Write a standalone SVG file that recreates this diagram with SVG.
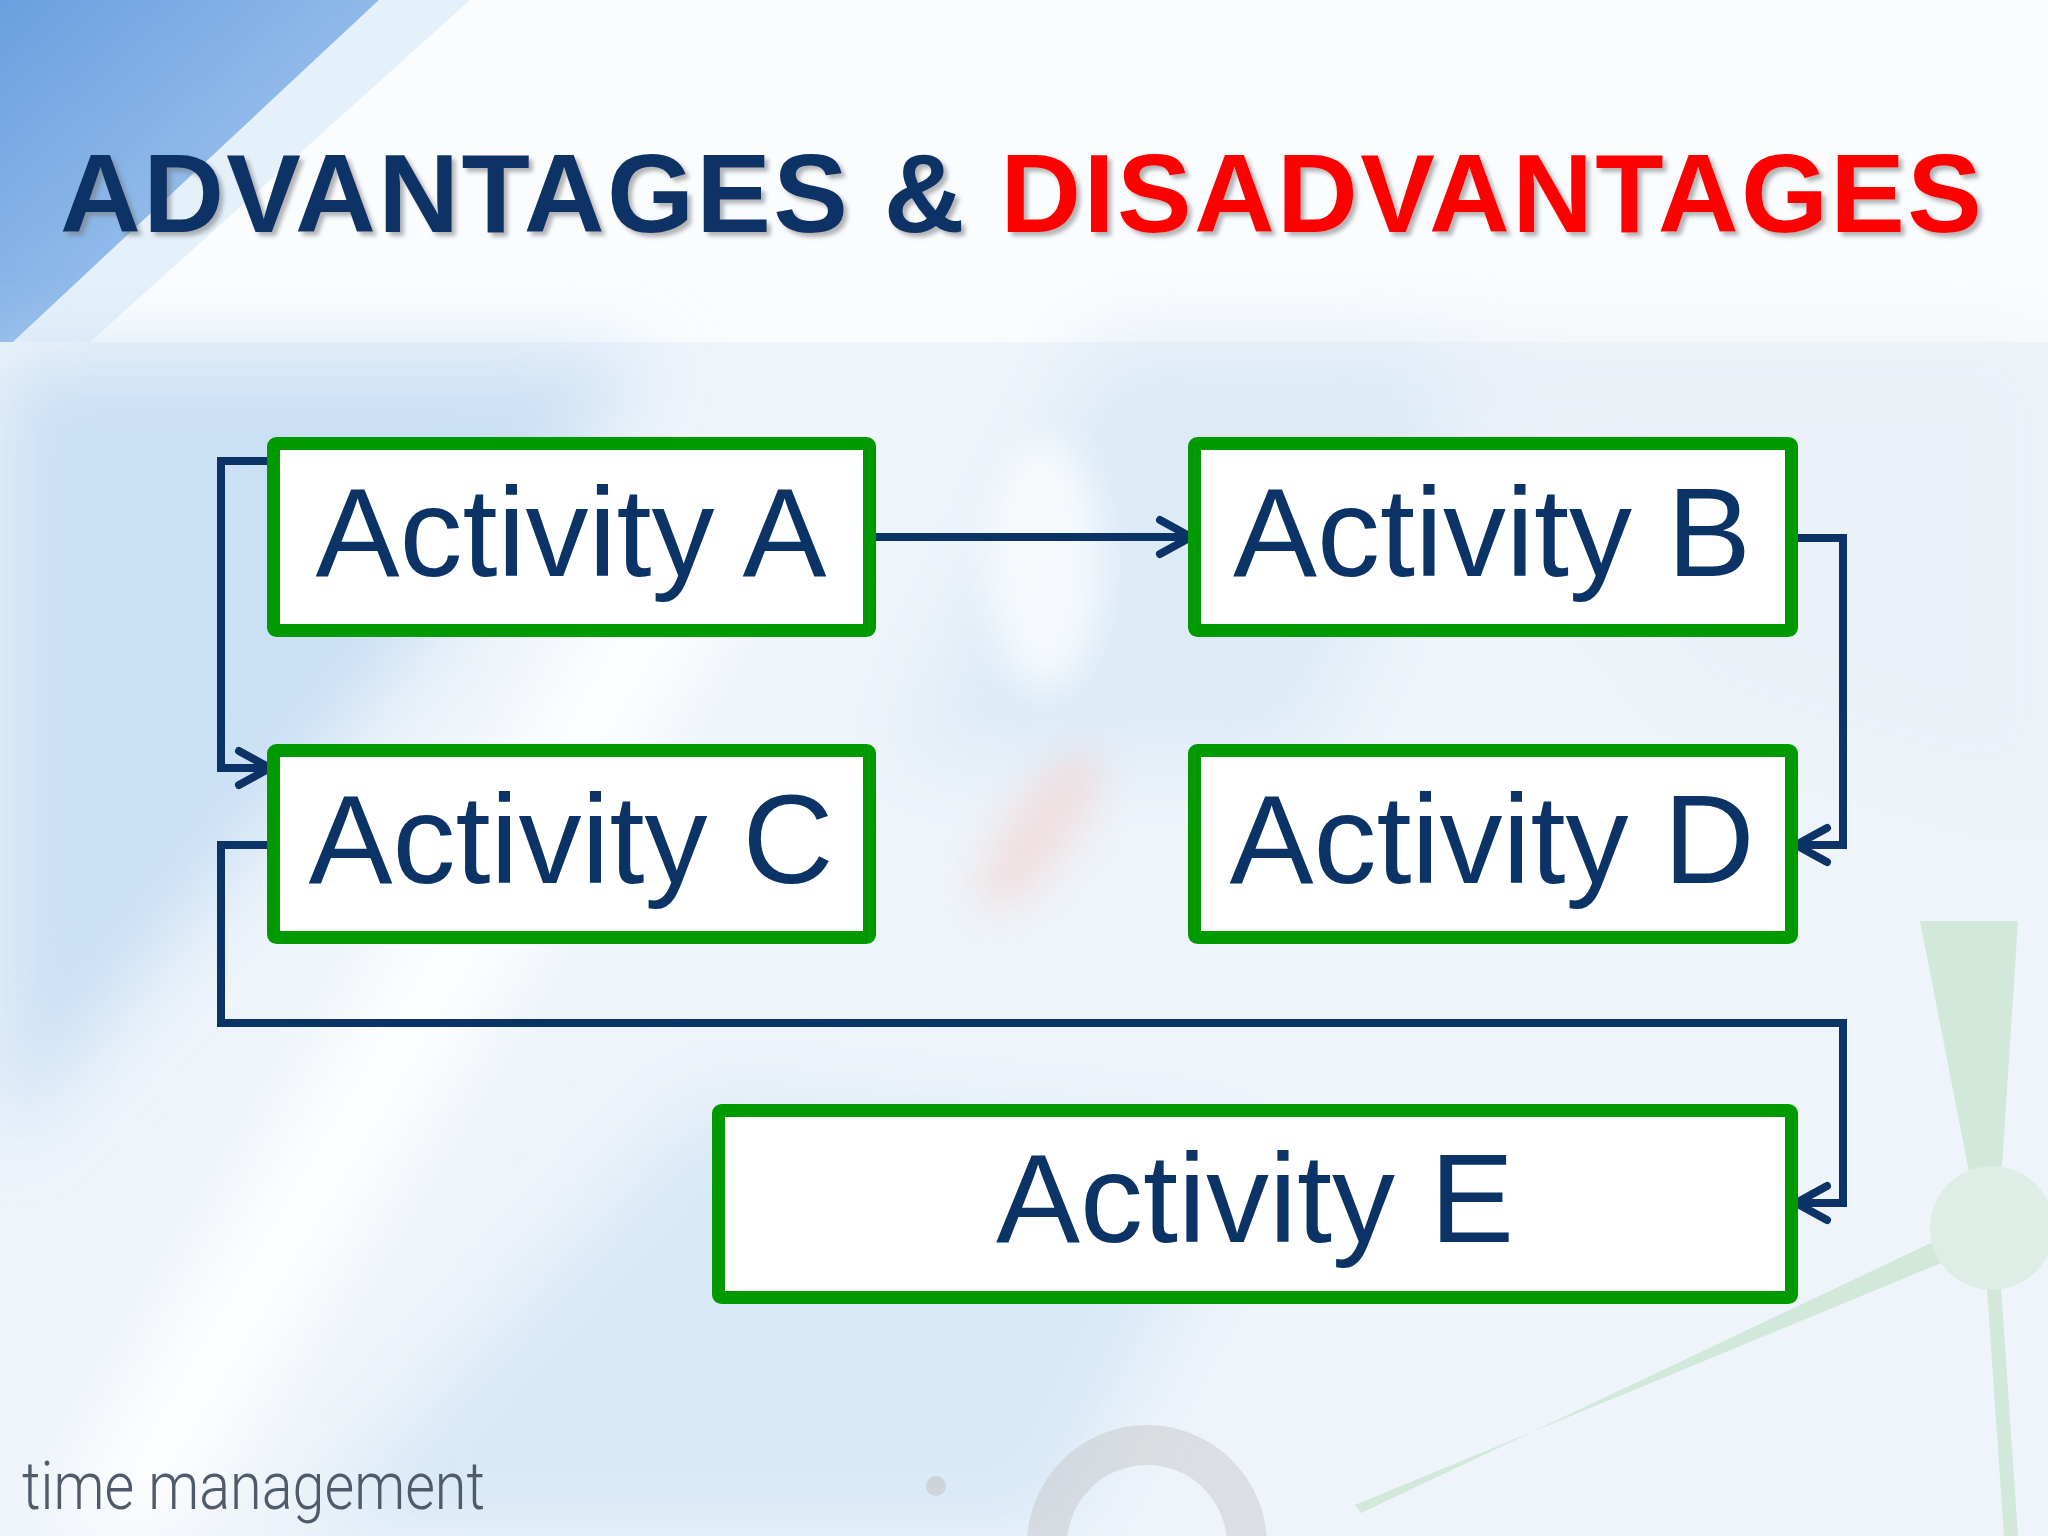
<svg xmlns="http://www.w3.org/2000/svg" width="2048" height="1536" viewBox="0 0 2048 1536">
  <defs>
    <linearGradient id="wedge" x1="0" y1="0" x2="1" y2="1">
      <stop offset="0" stop-color="#6a9fdf"/>
      <stop offset="1" stop-color="#b3d3f3"/>
    </linearGradient>
    <linearGradient id="sep" x1="0" y1="0" x2="1" y2="0">
      <stop offset="0" stop-color="#8fa0b4"/>
      <stop offset="0.35" stop-color="#6f89a8"/>
      <stop offset="0.6" stop-color="#9aa6b4"/>
      <stop offset="1" stop-color="#a7adb5"/>
    </linearGradient>
    <filter id="blur" x="-50%" y="-50%" width="200%" height="200%">
      <feGaussianBlur stdDeviation="40"/>
    </filter>
    <filter id="blurm" x="-50%" y="-50%" width="200%" height="200%">
      <feGaussianBlur stdDeviation="18"/>
    </filter>
    <filter id="shadow" x="-5%" y="-20%" width="110%" height="140%">
      <feDropShadow dx="4" dy="4" stdDeviation="2" flood-color="#777777" flood-opacity="0.55"/>
    </filter>
    <marker id="chev" markerUnits="userSpaceOnUse" viewBox="-40 -24 46 48" refX="0" refY="0" markerWidth="46" markerHeight="48" orient="auto">
      <path d="M-32,-17 L-1,0 L-32,17" fill="none" stroke="#0b3366" stroke-width="8" stroke-linecap="round" stroke-linejoin="round"/>
    </marker>
    <style>
      .box { fill: #ffffff; stroke: #009900; stroke-width: 13; }
      .lbl { font-family: "Liberation Sans", Arial, sans-serif; font-size: 126px; fill: #0b3366; text-anchor: middle; }
      .conn { fill: none; stroke: #0b3366; stroke-width: 8; stroke-linejoin: miter; marker-end: url(#chev); }
      .title { font-family: "Liberation Sans", Arial, sans-serif; font-weight: bold; font-size: 112px; }
    </style>
  </defs>

  <!-- background -->
  <g id="background">
    <rect x="0" y="0" width="2048" height="1536" fill="#eef4fa"/>
    <rect x="0" y="0" width="2048" height="342" fill="#fafcfe"/>
    <polygon points="0,0 379,0 13,342 0,342" fill="url(#wedge)"/>
    <polygon points="379,0 470,0 90,342 13,342" fill="#d6e7f7" opacity="0.6"/>
    <g filter="url(#blur)">
      <polygon points="0,360 650,360 0,1150" fill="#c3dcf3" opacity="0.85"/>
      <polygon points="300,1536 1050,1536 1250,1150 700,1100" fill="#d3e6f6" opacity="0.8"/>
      <polygon points="40,1536 180,1536 760,560 640,520" fill="#ffffff" opacity="0.9"/>
      <polygon points="1100,342 1500,342 1300,760 900,760" fill="#d8e8f6" opacity="0.8"/>
      <polygon points="1400,342 2048,342 2048,800 1700,700" fill="#e9f0f6" opacity="0.7"/>
    </g>
    <g filter="url(#blurm)">
      <ellipse cx="1045" cy="565" rx="58" ry="125" fill="#ffffff" opacity="0.7"/>
      <ellipse cx="1040" cy="830" rx="35" ry="95" fill="#f4c6bf" opacity="0.4" transform="rotate(35 1040 830)"/>
    </g>
    <g opacity="0.4" fill="#a6d6ab">
      <polygon points="1920,921 2018,921 1998,1228 1980,1228"/>
      <polygon points="1990,1215 1361,1513 1355,1505 1985,1245"/>
      <polygon points="1983,1230 1997,1230 2018,1536 2004,1536"/>
      <circle cx="1992" cy="1228" r="62" fill="#c6e3c8"/>
    </g>
    <circle cx="1147" cy="1545" r="100" fill="none" stroke="#bdbdbd" stroke-width="40" opacity="0.4"/>
    <circle cx="936" cy="1486" r="10" fill="#c4c4c4" opacity="0.6"/>
    <line x1="0" y1="342" x2="2048" y2="342" stroke="url(#sep)" stroke-width="3"/>
  </g>

  <!-- title -->
  <g id="title" filter="url(#shadow)">
    <text class="title" x="60" y="232" textLength="1922" lengthAdjust="spacing"><tspan fill="#0b3366">ADVANTAGES &amp; </tspan><tspan fill="#ff0000">DISADVANTAGES</tspan></text>
  </g>

  <!-- connectors -->
  <g id="connectors">
    <path class="conn" d="M874,537 H1192"/>
    <path class="conn" d="M271,461 H221 V768 H271"/>
    <path class="conn" d="M1795,538 H1843 V845 H1795"/>
    <path class="conn" d="M271,845 H221 V1023 H1843 V1203 H1795"/>
  </g>

  <!-- nodes -->
  <g id="node-a">
    <rect class="box" x="273.5" y="443.5" width="596" height="187" rx="3"/>
    <text class="lbl" x="571" y="576">Activity A</text>
  </g>
  <g id="node-b">
    <rect class="box" x="1194.5" y="443.5" width="597" height="187" rx="3"/>
    <text class="lbl" x="1492" y="576">Activity B</text>
  </g>
  <g id="node-c">
    <rect class="box" x="273.5" y="750.5" width="596" height="187" rx="3"/>
    <text class="lbl" x="571" y="883">Activity C</text>
  </g>
  <g id="node-d">
    <rect class="box" x="1194.5" y="750.5" width="597" height="187" rx="3"/>
    <text class="lbl" x="1492" y="883">Activity D</text>
  </g>
  <g id="node-e">
    <rect class="box" x="718.5" y="1110.5" width="1073" height="187" rx="3"/>
    <text class="lbl" x="1255" y="1242">Activity E</text>
  </g>

  <!-- footer -->
  <g id="footer">
    <text x="22" y="1509" font-family="Roboto, 'Liberation Sans', sans-serif" font-weight="300" font-size="66" fill="#4f5a6b" textLength="463" lengthAdjust="spacingAndGlyphs">time management</text>
  </g>
</svg>
